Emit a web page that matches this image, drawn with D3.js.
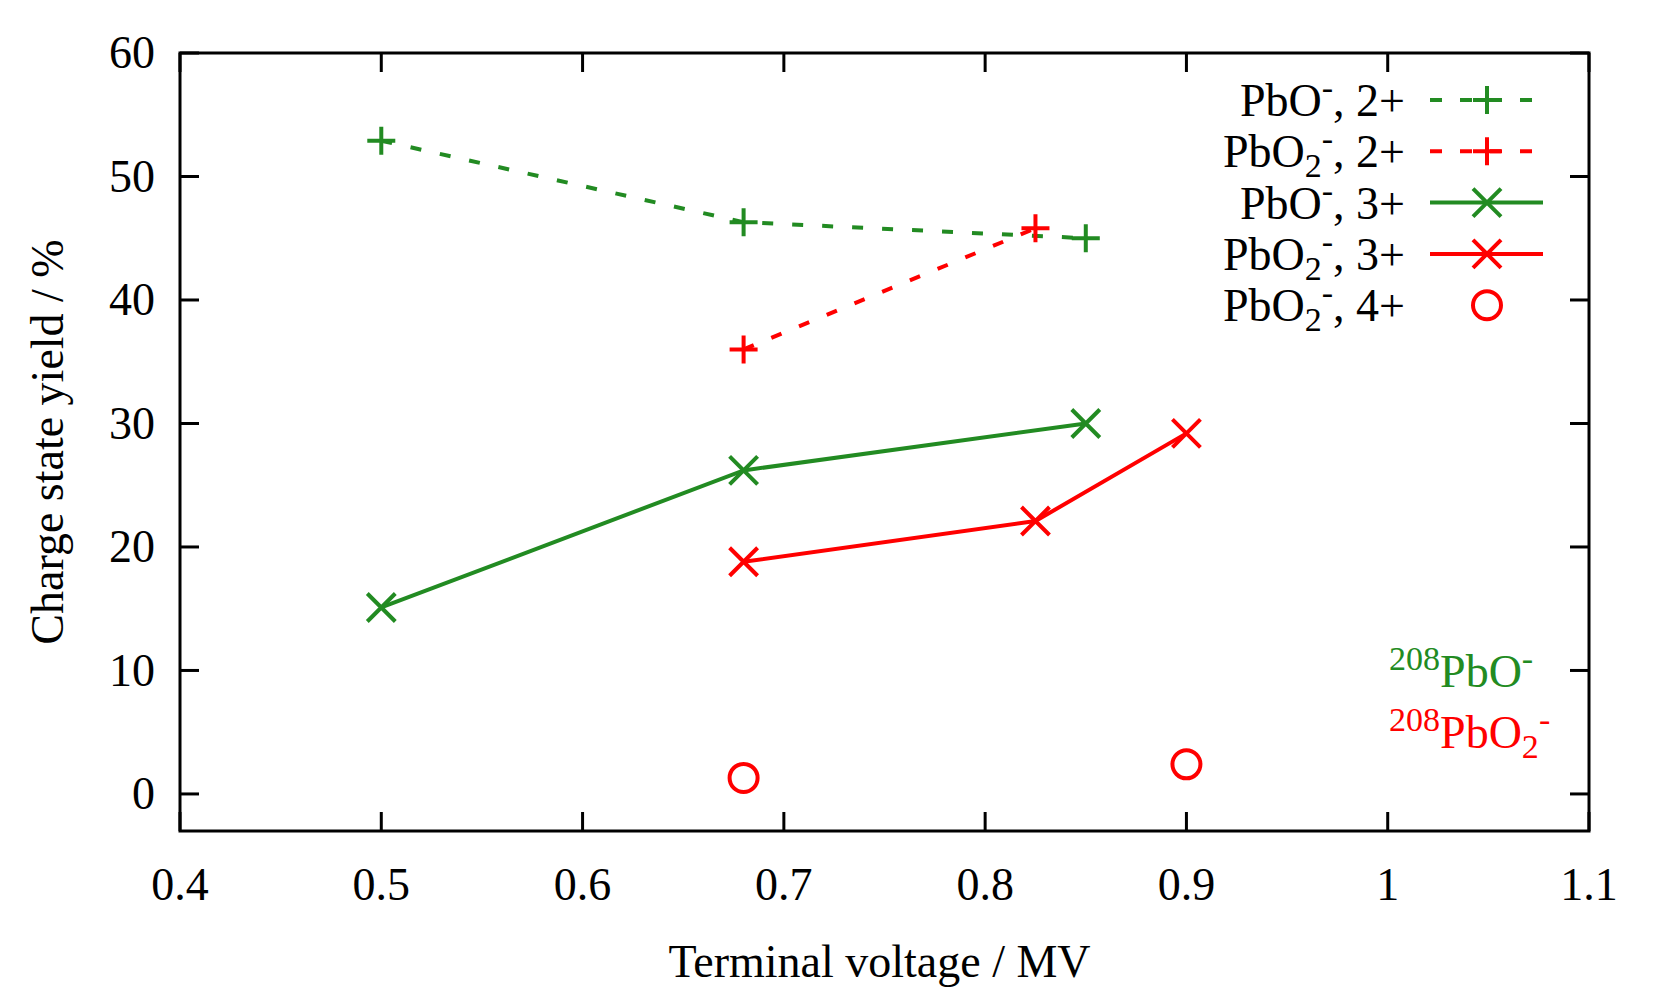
<!DOCTYPE html>
<html>
<head>
<meta charset="utf-8">
<script src="https://cdn.jsdelivr.net/npm/d3@7"></script>
<style>
  body { margin: 0; background: #fff; }
  svg text { font-family: "Liberation Serif", "Times New Roman", serif; }
</style>
</head>
<body>
<svg id="chart"></svg>
<script>
// data
var xTicks = [0.4, 0.5, 0.6, 0.7, 0.8, 0.9, 1.0, 1.1];
var xTickLabels = ["0.4", "0.5", "0.6", "0.7", "0.8", "0.9", "1", "1.1"];
var yTicks = [0, 10, 20, 30, 40, 50, 60];

var pbo2Voltage = [0.5, 0.68, 0.85];
var pbo2Yield = [52.9, 46.3, 45.0];
var pbo22Voltage = [0.68, 0.825];
var pbo22Yield = [36.0, 45.8];
var pbo3Voltage = [0.5, 0.68, 0.85];
var pbo3Yield = [15.1, 26.2, 30.0];
var pbo23Voltage = [0.68, 0.825, 0.9];
var pbo23Yield = [18.8, 22.1, 29.2];
var pbo24Voltage = [0.68, 0.9];
var pbo24Yield = [1.3, 2.4];

var green = "#228b22", red = "#ff0000";

let W = 1661, H = 997;
let margin = {top: 53, right: 72, bottom: 166, left: 180},
    width = W - margin.left - margin.right,
    height = H - margin.top - margin.bottom;

let svg = d3.select("#chart")
  .attr("width", W)
  .attr("height", H);

let g = svg.append("g")
  .attr("transform", "translate(" + margin.left + "," + margin.top + ")");

let x = d3.scaleLinear().domain([0.4, 1.1]).range([0, width]);
let y = d3.scaleLinear().domain([-3, 60]).range([height, 0]);

let fs = 46;
let tickLen = 19;

// ticks on all four sides (inward)
let ticks = g.append("g").attr("stroke", "#000").attr("stroke-width", 3);
xTicks.forEach(function(t) {
  ticks.append("line").attr("x1", x(t)).attr("x2", x(t)).attr("y1", height).attr("y2", height - tickLen);
  ticks.append("line").attr("x1", x(t)).attr("x2", x(t)).attr("y1", 0).attr("y2", tickLen);
});
yTicks.forEach(function(t) {
  ticks.append("line").attr("x1", 0).attr("x2", tickLen).attr("y1", y(t)).attr("y2", y(t));
  ticks.append("line").attr("x1", width).attr("x2", width - tickLen).attr("y1", y(t)).attr("y2", y(t));
});

// tick labels
g.selectAll(".xlab")
  .data(xTicks)
  .enter().append("text")
  .attr("x", function(d) { return x(d); })
  .attr("y", height + 69)
  .attr("text-anchor", "middle")
  .attr("font-size", fs)
  .text(function(d, i) { return xTickLabels[i]; });

g.selectAll(".ylab")
  .data(yTicks)
  .enter().append("text")
  .attr("x", -25)
  .attr("y", function(d) { return y(d); })
  .attr("dy", "0.33em")
  .attr("text-anchor", "end")
  .attr("font-size", fs)
  .text(function(d) { return d; });

// frame
g.append("rect")
  .attr("width", width).attr("height", height)
  .attr("fill", "none").attr("stroke", "#000").attr("stroke-width", 3);

// axis titles
svg.append("text")
  .attr("x", margin.left + width / 2 - 5)
  .attr("y", 977)
  .attr("text-anchor", "middle")
  .attr("font-size", fs)
  .text("Terminal voltage / MV");

svg.append("text")
  .attr("transform", "translate(63," + 442 + ") rotate(-90)")
  .attr("text-anchor", "middle")
  .attr("font-size", fs)
  .text("Charge state yield / %");

// markers
function plus(sel, cx, cy, color) {
  let s = 14;
  sel.append("path")
    .attr("d", "M" + (cx - s) + "," + cy + "H" + (cx + s) + "M" + cx + "," + (cy - s) + "V" + (cy + s))
    .attr("stroke", color).attr("stroke-width", 4).attr("fill", "none");
}
function cross(sel, cx, cy, color) {
  let s = 14;
  sel.append("path")
    .attr("d", "M" + (cx - s) + "," + (cy - s) + "L" + (cx + s) + "," + (cy + s) +
               "M" + (cx - s) + "," + (cy + s) + "L" + (cx + s) + "," + (cy - s))
    .attr("stroke", color).attr("stroke-width", 4).attr("fill", "none");
}
function circle(sel, cx, cy, color) {
  sel.append("circle")
    .attr("cx", cx).attr("cy", cy).attr("r", 14)
    .attr("stroke", color).attr("stroke-width", 4).attr("fill", "none");
}

let series = [
  {label: [["PbO", 0], ["-", -1], [", 2+", 0]], xs: pbo2Voltage, ys: pbo2Yield, color: green, dash: "11,19", mark: plus},
  {label: [["PbO", 0], ["2", 1], ["-", -1], [", 2+", 0]], xs: pbo22Voltage, ys: pbo22Yield, color: red, dash: "11,19", mark: plus},
  {label: [["PbO", 0], ["-", -1], [", 3+", 0]], xs: pbo3Voltage, ys: pbo3Yield, color: green, dash: null, mark: cross},
  {label: [["PbO", 0], ["2", 1], ["-", -1], [", 3+", 0]], xs: pbo23Voltage, ys: pbo23Yield, color: red, dash: null, mark: cross},
  {label: [["PbO", 0], ["2", 1], ["-", -1], [", 4+", 0]], xs: pbo24Voltage, ys: pbo24Yield, color: red, dash: "none", mark: circle}
];

let line = d3.line()
  .x(function(d) { return x(d[0]); })
  .y(function(d) { return y(d[1]); });

series.forEach(function(s) {
  let pts = s.xs.map(function(v, i) { return [v, s.ys[i]]; });
  if (s.dash !== "none") {
    g.append("path")
      .attr("d", line(pts))
      .attr("fill", "none")
      .attr("stroke", s.color)
      .attr("stroke-width", 4)
      .attr("stroke-dasharray", s.dash);
  }
  pts.forEach(function(p) { s.mark(g, x(p[0]), y(p[1]), s.color); });
});

// rich text helper: level 0 normal, 1 subscript, -1 superscript
function richText(sel, parts, size) {
  let cur = 0;
  parts.forEach(function(p) {
    let shift = p[1] === 1 ? 10 : (p[1] === -1 ? -17 : 0);
    sel.append("tspan")
      .attr("dy", shift - cur)
      .attr("font-size", p[1] === 0 ? size : size * 0.74)
      .text(p[0]);
    cur = shift;
  });
}

// legend
let legend = svg.append("g");
series.forEach(function(s, i) {
  let ly = 100 + i * 51.3;
  let t = legend.append("text")
    .attr("x", 1405)
    .attr("y", ly + 16)
    .attr("text-anchor", "end")
    .attr("font-size", fs);
  richText(t, s.label, fs);
  if (s.dash !== "none") {
    legend.append("line")
      .attr("x1", 1430).attr("x2", 1543).attr("y1", ly).attr("y2", ly)
      .attr("stroke", s.color).attr("stroke-width", 4)
      .attr("stroke-dasharray", s.dash ? "12,18" : null);
  }
  s.mark(legend, 1487, ly, s.color);
});

// isotope annotations
let a1 = svg.append("text").attr("x", 1389).attr("y", 687).attr("font-size", fs).attr("fill", green);
richText(a1, [["208", -1], ["PbO", 0], ["-", -1]], fs);
let a2 = svg.append("text").attr("x", 1389).attr("y", 748).attr("font-size", fs).attr("fill", red);
richText(a2, [["208", -1], ["PbO", 0], ["2", 1], ["-", -1]], fs);
</script>
</body>
</html>
